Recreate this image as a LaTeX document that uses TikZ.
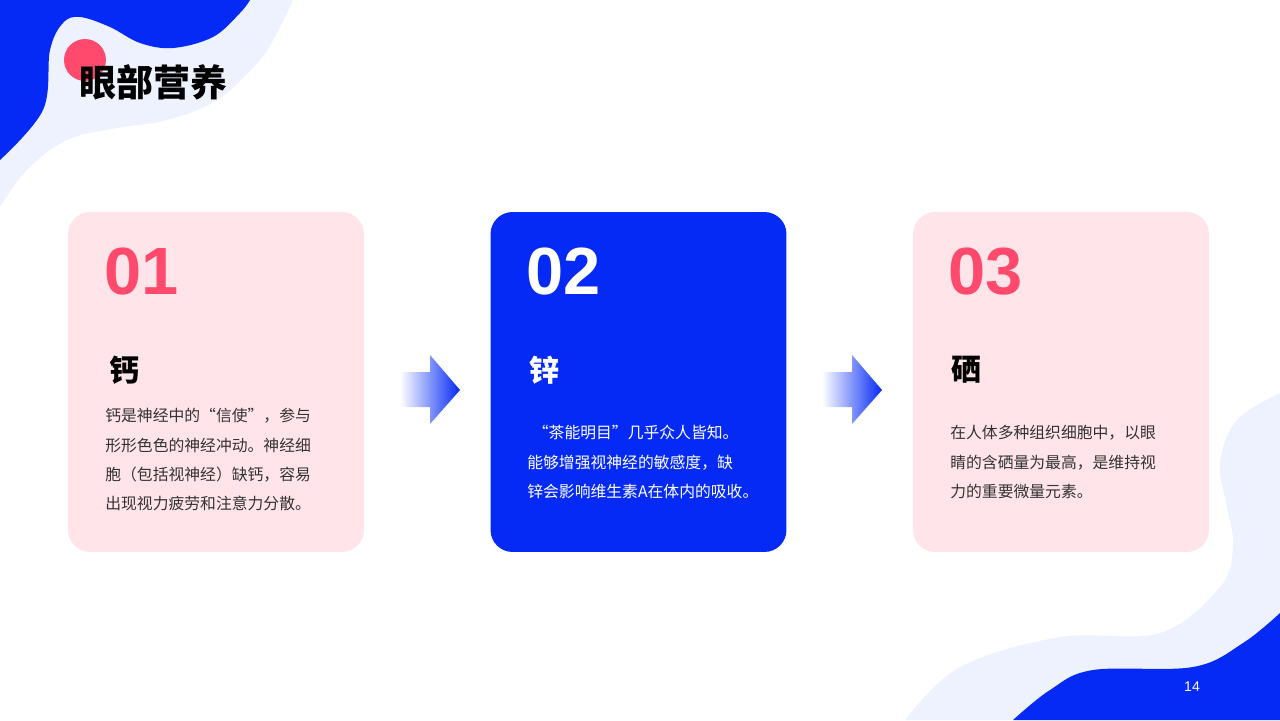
\documentclass[tikz,border=0pt]{standalone}
\usepackage{fontspec}
\newfontfamily\cjk{Noto Sans CJK SC}
\newfontfamily\numfont{Liberation Sans}
\definecolor{deepblue}{RGB}{5,42,245}
\definecolor{paleblue}{RGB}{238,242,254}
\definecolor{cardpink}{RGB}{255,228,233}
\definecolor{rosered}{RGB}{255,74,110}
\definecolor{bodygray}{RGB}{51,51,51}
\tikzset{
  card/.style={rounded corners=0.44cm, minimum width=5.92cm, minimum height=6.8cm, inner sep=0pt},
  cardnum/.style={anchor=west, inner sep=0pt, font=\numfont\bfseries\fontsize{38}{38}\selectfont},
  cardhead/.style={anchor=west, inner sep=0pt, font=\cjk\bfseries\fontsize{17}{17}\selectfont},
  cardbody/.style={anchor=north west, inner sep=0pt, align=left, font=\cjk\fontsize{9}{16.7}\selectfont},
}
\begin{document}
\begin{tikzpicture}[x=0.02cm, y=-0.02cm]
  \useasboundingbox (0,0) rectangle (1280,720);
  % Background waves
  \fill[paleblue] (0,0) -- plot[smooth, tension=0.6] coordinates {(293,0) (280,27) (260,60) (217,100) (167,120) (117,128) (67,140) (27,170) (0,207)} -- cycle;
  \fill[deepblue] (0,0) -- plot[smooth, tension=0.6] coordinates {(250,0) (240,13) (213,37) (173,48) (140,43) (110,27) (80,17) (63,23) (50,50) (43,110) (0,160)} -- cycle;
  \fill[paleblue] (1280,720) -- plot[smooth, tension=0.6] coordinates {(905,720) (960,667) (1060,637) (1160,633) (1220,587) (1233,547) (1227,507) (1220,463) (1237,420) (1280,393)} -- cycle;
  \fill[deepblue] (1280,720) -- plot[smooth, tension=0.6] coordinates {(1013,720) (1050,690) (1093,670) (1193,667) (1243,643) (1280,613)} -- cycle;

  % Title
  \fill[rosered] (85,60) circle (21);
  \node[anchor=west, inner sep=0pt, font=\cjk\bfseries\fontsize{21}{21}\selectfont] (title) at (79,82) {眼部营养};

  % Define cards
  \node[card, fill=cardpink] (card1) at (216,382) {};
  \node[card, fill=deepblue] (card2) at (638.5,382) {};
  \node[card, fill=cardpink] (card3) at (1061,382) {};

  % Card contents
  \node[cardnum, text=rosered] (num1) at (104,272) {01};
  \node[cardnum, text=white] (num2) at (526,272) {02};
  \node[cardnum, text=rosered] (num3) at (948,272) {03};
  \node[cardhead, text=black] (head1) at (109,370) {钙};
  \node[cardhead, text=white] (head2) at (529,370) {锌};
  \node[cardhead, text=black] (head3) at (951,370) {硒};
  \node[cardbody, text=bodygray] (body1) at (105,408) {钙是神经中的“信使”，参与\\形形色色的神经冲动。神经细\\胞（包括视神经）缺钙，容易\\出现视力疲劳和注意力分散。};
  \node[cardbody, text=white] (body2) at (527,425) {\hspace{0.35em}“茶能明目”几乎众人皆知。\\能够增强视神经的敏感度，缺\\锌会影响维生素A在体内的吸收。};
  \node[cardbody, text=bodygray] (body3) at (950,425) {在人体多种组织细胞中，以眼\\睛的含硒量为最高，是维持视\\力的重要微量元素。};

  % Arrows between cards
  \foreach \ax in {400,822} {
    \shade[left color=white, right color=deepblue]
      (\ax,372) -- (\ax+30,372) -- (\ax+30,355) -- (\ax+60,390) -- (\ax+30,424) -- (\ax+30,407) -- (\ax,407) -- cycle;
  }

  % Page number
  \node[text=white, inner sep=0pt, font=\numfont\fontsize{8}{8}\selectfont] (page) at (1192,687) {14};
\end{tikzpicture}
\end{document}
